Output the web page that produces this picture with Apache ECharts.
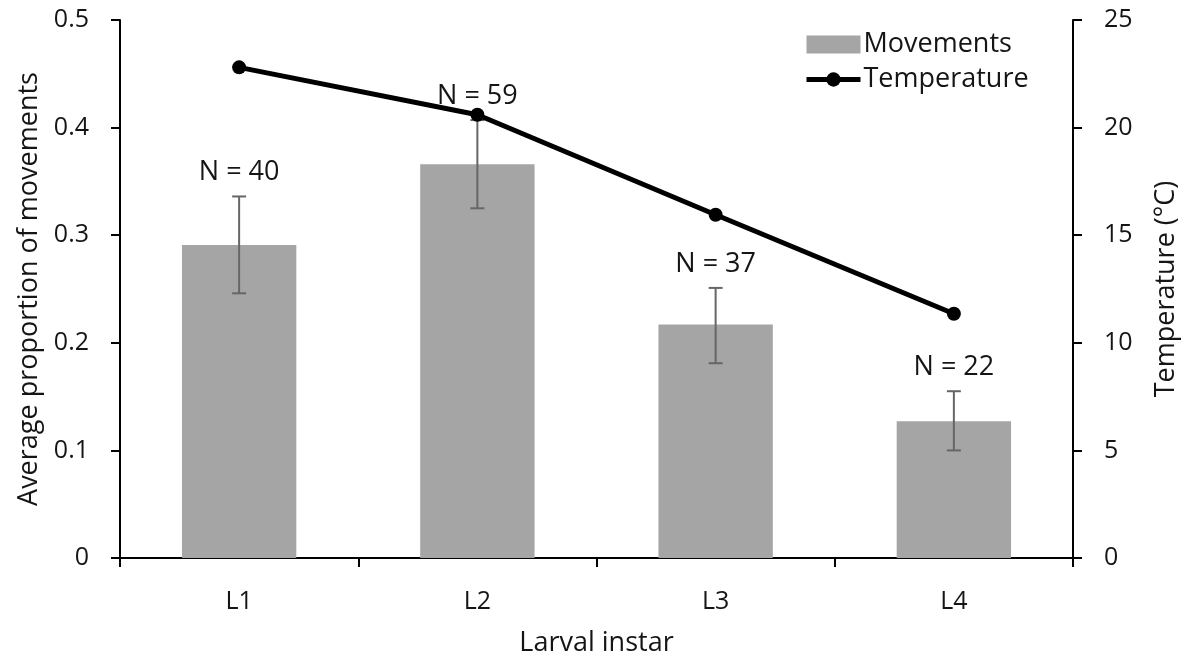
<!DOCTYPE html>
<html>
<head>
<meta charset="utf-8">
<style>
  html, body { margin: 0; padding: 0; background: #fff; }
  #chart { width: 1189px; height: 663px; }
</style>
<script src="https://cdn.jsdelivr.net/npm/echarts@6/dist/echarts.min.js"></script>
</head>
<body>
<div id="chart"></div>
<script>
// Larval instars and measured values
const instars = ['L1', 'L2', 'L3', 'L4'];
const movements = [0.291, 0.366, 0.217, 0.127];       // average proportion of movements
const errLow = [0.246, 0.325, 0.181, 0.100];          // lower end of error bar
const errHigh = [0.336, 0.407, 0.251, 0.155];         // upper end of error bar
const sampleSizes = [40, 59, 37, 22];                 // N per instar
const temperature = [22.8, 20.6, 15.95, 11.35];       // °C
const leftTicks = [0, 0.1, 0.2, 0.3, 0.4, 0.5];
const rightTicks = [0, 5, 10, 15, 20, 25];

const FONT = '"Open Sans", "Noto Sans", sans-serif';
const TEXT = '#151515';
const TICK_SIZE = 25;
const TITLE_SIZE = 27;

const chart = echarts.init(document.getElementById('chart'));

const errorData = instars.map((c, i) => [i, errLow[i], errHigh[i], sampleSizes[i]]);

chart.setOption({
  animation: false,
  textStyle: { fontFamily: FONT, color: TEXT },
  grid: { left: 120, right: 116, top: 20, bottom: 105 },
  legend: {
    orient: 'vertical',
    left: 799,
    top: 26,
    itemWidth: 54,
    itemHeight: 18,
    itemGap: 8,
    lineStyle: { width: 5 },
    textStyle: { fontFamily: FONT, fontSize: 27, color: TEXT, padding: [0, 0, 0, -2] },
    data: [
      { name: 'Movements', icon: 'rect' },
      { name: 'Temperature' }
    ]
  },
  xAxis: {
    type: 'category',
    data: instars,
    name: 'Larval instar',
    nameLocation: 'middle',
    nameGap: 72,
    nameTextStyle: { fontFamily: FONT, fontSize: TITLE_SIZE, color: TEXT },
    axisLine: { lineStyle: { color: '#000', width: 2 } },
    axisTick: { show: true, alignWithLabel: false, length: 9, lineStyle: { color: '#000', width: 2 } },
    axisLabel: { fontFamily: FONT, fontSize: TICK_SIZE, color: TEXT, margin: 31 }
  },
  yAxis: [
    {
      type: 'value',
      min: leftTicks[0], max: leftTicks[leftTicks.length - 1], interval: leftTicks[1] - leftTicks[0],
      name: 'Average proportion of movements',
      nameLocation: 'middle',
      nameGap: 77,
      nameRotate: 90,
      nameTextStyle: { fontFamily: FONT, fontSize: TITLE_SIZE, color: TEXT },
      axisLine: { show: true, lineStyle: { color: '#000', width: 2 } },
      axisTick: { show: true, length: 9, lineStyle: { color: '#000', width: 2 } },
      axisLabel: { fontFamily: FONT, fontSize: TICK_SIZE, color: TEXT, margin: 31 },
      splitLine: { show: false }
    },
    {
      type: 'value',
      min: rightTicks[0], max: rightTicks[rightTicks.length - 1], interval: rightTicks[1] - rightTicks[0],
      name: 'Temperature (°C)',
      nameLocation: 'middle',
      nameGap: 80,
      nameRotate: 90,
      nameTextStyle: { fontFamily: FONT, fontSize: TITLE_SIZE, color: TEXT },
      axisLine: { show: true, lineStyle: { color: '#000', width: 2 } },
      axisTick: { show: true, length: 9, lineStyle: { color: '#000', width: 2 } },
      axisLabel: { fontFamily: FONT, fontSize: TICK_SIZE, color: TEXT, margin: 31 },
      splitLine: { show: false }
    }
  ],
  series: [
    {
      name: 'Movements',
      type: 'bar',
      data: movements,
      yAxisIndex: 0,
      barWidth: '48%',
      itemStyle: { color: '#a5a5a5' },
      z: 2
    },
    {
      name: 'Error',
      type: 'custom',
      yAxisIndex: 0,
      data: errorData,
      z: 3,
      renderItem: function (params, api) {
        const x = api.value(0);
        const lo = api.coord([x, api.value(1)]);
        const hi = api.coord([x, api.value(2)]);
        const cap = 7;
        const style = { stroke: '#666', lineWidth: 2 };
        return {
          type: 'group',
          children: [
            { type: 'line', shape: { x1: lo[0], y1: lo[1], x2: hi[0], y2: hi[1] }, style: style },
            { type: 'line', shape: { x1: lo[0] - cap, y1: lo[1], x2: lo[0] + cap, y2: lo[1] }, style: style },
            { type: 'line', shape: { x1: hi[0] - cap, y1: hi[1], x2: hi[0] + cap, y2: hi[1] }, style: style }
          ]
        };
      }
    },
    {
      name: 'Temperature',
      type: 'line',
      yAxisIndex: 1,
      data: temperature,
      symbol: 'circle',
      symbolSize: 14,
      lineStyle: { color: '#000', width: 5 },
      itemStyle: { color: '#000' },
      z: 4
    },
    {
      name: 'N labels',
      type: 'custom',
      yAxisIndex: 0,
      data: errorData,
      z: 5,
      renderItem: function (params, api) {
        const x = api.value(0);
        const hi = api.coord([x, api.value(2)]);
        return {
          type: 'text',
          x: hi[0],
          y: hi[1] - 24,
          style: {
            text: 'N = ' + api.value(3),
            fontFamily: FONT,
            fontSize: 27,
            fill: TEXT,
            align: 'center',
            verticalAlign: 'middle'
          }
        };
      }
    }
  ]
});
</script>
</body>
</html>
